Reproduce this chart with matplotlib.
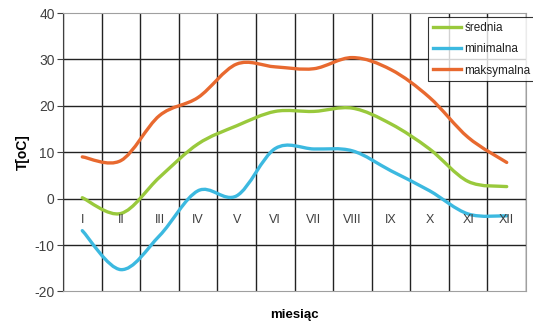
import numpy as np
import matplotlib
matplotlib.use('Agg')
import matplotlib.pyplot as plt
from matplotlib.path import Path
from matplotlib.patches import PathPatch
from matplotlib.lines import Line2D

plt.rcParams['font.family'] = ['Liberation Sans', 'DejaVu Sans']
plt.rcParams['axes.unicode_minus'] = False

# Data
months = ['I', 'II', 'III', 'IV', 'V', 'VI', 'VII', 'VIII', 'IX', 'X', 'XI', 'XII']
srednia = [0.2, -3.2, 4.6, 11.8, 15.7, 18.8, 18.8, 19.5, 16.1, 10.7, 3.7, 2.6]
minimalna = [-6.9, -15.3, -8.0, 1.7, 0.6, 10.8, 10.7, 10.3, 6.0, 1.7, -3.3, -3.7]
maksymalna = [9.0, 8.2, 17.9, 21.8, 29.0, 28.4, 28.0, 30.4, 27.8, 21.8, 13.2, 7.8]

series = [('średnia', srednia, '#99c93c'),
          ('minimalna', minimalna, '#3cb9e0'),
          ('maksymalna', maksymalna, '#e8692f')]


def smooth_path(x, y):
    # Excel-style smoothed line as cubic Bezier segments through the points
    pts = np.column_stack([x, y])
    n = len(pts)
    verts = [pts[0]]
    codes = [Path.MOVETO]
    for i in range(n - 1):
        p0 = pts[i - 1] if i > 0 else pts[i]
        p1 = pts[i]
        p2 = pts[i + 1]
        p3 = pts[i + 2] if i + 2 < n else pts[i + 1]
        c1 = p1 + (p2 - p0) / 6.0
        c2 = p2 - (p3 - p1) / 6.0
        verts += [c1, c2, p2]
        codes += [Path.CURVE4] * 3
    return Path(verts, codes)


fig = plt.figure(figsize=(5.33, 3.26), dpi=100)
ax = fig.add_axes([0.1182, 0.106, 0.8687, 0.854])

x = np.arange(1, len(months) + 1)
for name, vals, col in series:
    ax.add_patch(PathPatch(smooth_path(x, vals), facecolor='none', edgecolor=col,
                           lw=2.4, capstyle='round', joinstyle='round', zorder=3))

ax.set_xlim(0.5, 12.5)
ax.set_ylim(-20, 40)
ax.set_yticks(range(-20, 41, 10))
ax.set_xticks([])
for v in np.arange(0.5, 12.6, 1):
    ax.axvline(v, color='#222222', lw=1.0, zorder=1)
for v in range(-10, 40, 10):
    ax.axhline(v, color='#222222', lw=1.0, zorder=1)

for s in ['top', 'right', 'bottom']:
    ax.spines[s].set_color('#a0a0a0')
ax.spines['left'].set_color('#404040')
ax.tick_params(axis='y', labelsize=10, colors='#404040', length=4, width=0.8, pad=2)
for lab in ax.get_yticklabels():
    lab.set_color('#404040')

for xi, m in zip(x, months):
    ax.text(xi, -4.7, m, ha='center', va='center', fontsize=9, color='#404040')

ax.set_ylabel('T[oC]', fontsize=10, fontweight='bold', labelpad=3)
fig.text(0.5525, 0.035, 'miesiąc', ha='center', va='center', fontsize=9.5, fontweight='bold')

handles = [Line2D([0], [0], color=c, lw=2.4) for _, _, c in series]
leg = ax.legend(handles, [n for n, _, _ in series], loc='upper left',
                bbox_to_anchor=(0.788, 0.986), fontsize=8.5, frameon=True,
                fancybox=False, handlelength=2.4, handletextpad=0.3,
                labelspacing=0.8, borderpad=0.4, borderaxespad=0)
leg.get_frame().set_edgecolor('black')
leg.get_frame().set_linewidth(0.8)
leg.set_zorder(5)
for t in leg.get_texts():
    t.set_color('#202020')

fig.savefig('out.png', dpi=100)
